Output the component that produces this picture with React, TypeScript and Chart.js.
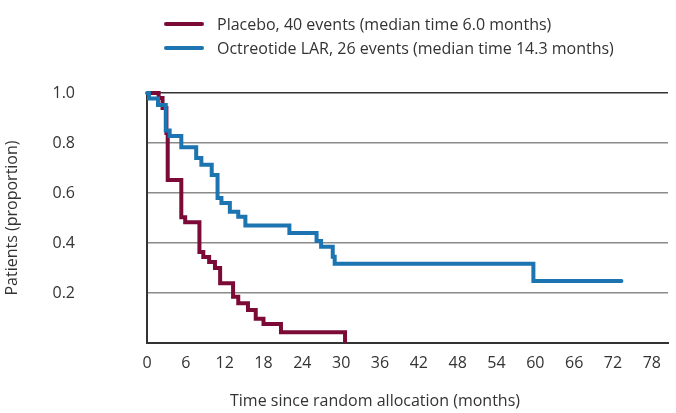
import React, { useEffect, useRef } from 'react';
import { Chart, registerables } from 'chart.js';

Chart.register(...registerables);

// Kaplan–Meier steps: time (months) at which each step begins, and proportion after it
const placeboMonths = [0, 1.8, 2.4, 3.0, 3.2, 5.3, 5.9, 8.1, 8.7, 9.6, 10.5, 11.3, 13.3, 14.1, 15.6, 16.8, 18.0, 20.7, 30.6];
const placeboProportion = [1.0, 0.98, 0.94, 0.84, 0.652, 0.503, 0.483, 0.364, 0.344, 0.324, 0.3, 0.239, 0.185, 0.159, 0.132, 0.097, 0.076, 0.043, 0];

const octreotideMonths = [0, 0.3, 1.7, 2.9, 3.5, 5.3, 7.6, 8.4, 10.0, 10.9, 11.5, 12.8, 14.1, 15.2, 22.0, 26.2, 26.9, 28.7, 29.0, 59.7, 73.3];
const octreotideProportion = [1.0, 0.978, 0.952, 0.85, 0.828, 0.783, 0.74, 0.713, 0.672, 0.58, 0.56, 0.525, 0.505, 0.47, 0.44, 0.408, 0.385, 0.345, 0.317, 0.248, 0.248];

const seriesLabels = [
  'Placebo, 40 events (median time 6.0 months)',
  'Octreotide LAR, 26 events (median time 14.3 months)',
];
const seriesColors = ['#7b0b36', '#1c74b0'];

const xTickValues = [0, 6, 12, 18, 24, 30, 36, 42, 48, 54, 60, 66, 72, 78];
const yTickValues = [0.2, 0.4, 0.6, 0.8, 1.0];
const xTitle = 'Time since random allocation (months)';
const yTitle = 'Patients (proportion)';

const FONT_FAMILY = '"Open Sans", sans-serif';
const FONT_SIZE = 16;
const TEXT_COLOR = '#333333';

export default function App() {
  const canvasRef = useRef<HTMLCanvasElement>(null);

  useEffect(() => {
    if (!canvasRef.current) return;

    const textPlugin = {
      id: 'legendAndXTitle',
      afterDraw(chart: any) {
        const ctx = chart.ctx;
        const area = chart.chartArea;
        ctx.save();
        ctx.font = `${FONT_SIZE}px ${FONT_FAMILY}`;
        ctx.fillStyle = TEXT_COLOR;
        ctx.textBaseline = 'middle';
        // legend, left aligned with a short line sample
        chart.data.datasets.forEach((ds: any, i: number) => {
          const y = 24 + i * 24;
          const x0 = area.left + 19;
          ctx.strokeStyle = ds.borderColor;
          ctx.lineWidth = 4;
          ctx.lineCap = 'round';
          ctx.beginPath();
          ctx.moveTo(x0, y);
          ctx.lineTo(x0 + 36, y);
          ctx.stroke();
          ctx.textAlign = 'left';
          ctx.fillText(ds.label, x0 + 51, y + 1);
        });
        // x axis title (offset left of the plot centre, as in the source)
        ctx.textAlign = 'center';
        ctx.fillText(xTitle, area.left + 228, area.bottom + 58);
        ctx.restore();
      },
    };

    const chart = new Chart(canvasRef.current, {
      type: 'line',
      data: {
        datasets: [
          {
            label: seriesLabels[0],
            data: placeboMonths.map((m, i) => ({ x: m, y: placeboProportion[i] })),
            borderColor: seriesColors[0],
            backgroundColor: seriesColors[0],
            borderWidth: 4,
            pointRadius: 0,
            stepped: 'before',
            fill: false,
            clip: false as any,
            order: 1,
          },
          {
            label: seriesLabels[1],
            data: octreotideMonths.map((m, i) => ({ x: m, y: octreotideProportion[i] })),
            borderColor: seriesColors[1],
            backgroundColor: seriesColors[1],
            borderWidth: 4,
            borderCapStyle: 'round',
            pointRadius: 0,
            stepped: 'before',
            fill: false,
            clip: false as any,
            order: 0,
          },
        ],
      },
      options: {
        responsive: true,
        maintainAspectRatio: false,
        animation: false,
        devicePixelRatio: 1,
        layout: { padding: { top: 93, right: 8, left: 0, bottom: 0 } },
        plugins: {
          legend: { display: false },
          tooltip: { enabled: false },
        },
        scales: {
          x: {
            type: 'linear',
            min: 0,
            max: 80.5,
            afterBuildTicks: (s: any) => {
              s.ticks = xTickValues.map((v) => ({ value: v }));
            },
            afterFit: (s: any) => {
              s.height = 70;
            },
            grid: { display: false, drawTicks: false },
            border: { display: true, color: '#333333', width: 2 },
            ticks: {
              padding: 11,
              color: TEXT_COLOR,
              font: { family: FONT_FAMILY, size: FONT_SIZE },
              maxRotation: 0,
              autoSkip: false,
              callback: (v: any) => String(v),
            },
            title: { display: false, text: xTitle },
          },
          y: {
            type: 'linear',
            min: 0,
            max: 1,
            afterBuildTicks: (s: any) => {
              s.ticks = yTickValues.map((v) => ({ value: v }));
            },
            afterFit: (s: any) => {
              s.width = 147;
            },
            grid: {
              drawTicks: true,
              tickLength: 72,
              tickColor: 'rgba(0,0,0,0)',
              color: (c: any) => (c.tick && c.tick.value === 1 ? '#333333' : '#8a8a8a'),
              lineWidth: 1.5,
            },
            border: { display: true, color: '#333333', width: 2 },
            ticks: {
              padding: 0,
              color: TEXT_COLOR,
              font: { family: FONT_FAMILY, size: FONT_SIZE },
              callback: (v: any) => Number(v).toFixed(1),
            },
            title: {
              display: true,
              text: yTitle,
              color: TEXT_COLOR,
              font: { family: FONT_FAMILY, size: FONT_SIZE },
              padding: { top: 3, bottom: 0 },
            },
          },
        },
      },
      plugins: [textPlugin],
    });

    return () => chart.destroy();
  }, []);

  return (
    <div style={{ position: 'fixed', left: 0, top: 0, width: 676, height: 413 }}>
      <canvas ref={canvasRef} />
    </div>
  );
}
